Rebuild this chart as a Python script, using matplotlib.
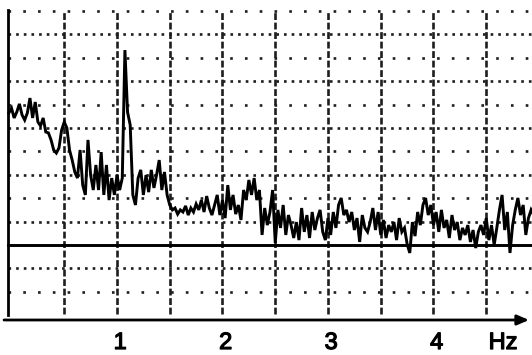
import numpy as np
import matplotlib
matplotlib.use("Agg")
import matplotlib.pyplot as plt
import matplotlib.patheffects as pe

# ---- data (frequency in Hz, amplitude in grid units; 0 = solid reference line) ----
freq_start = -0.025
freq_step = 0.025
amplitude = [
    # -0.025 .. 0.45
    5.64, 5.85, 5.43, 5.68, 6.03, 5.56, 5.34, 5.64, 6.28, 5.43,
    6.11, 5.26, 5.09, 5.43, 4.83, 4.79, 4.49, 4.06, 3.93, 4.15,
    # 0.475 .. 0.95
    4.91, 5.26, 5.00, 4.06, 3.63, 3.12, 2.86, 4.06, 2.56, 2.14,
    4.49, 2.99, 2.35, 3.42, 2.35, 3.97, 2.14, 3.42, 1.92, 2.86,
    # 0.975 .. 1.45
    2.14, 2.99, 2.35, 2.86, 8.33, 5.68, 5.13, 2.14, 1.71, 2.86,
    3.21, 2.14, 2.99, 2.26, 3.21, 2.44, 2.99, 3.63, 2.35, 3.12,
    # 1.475 .. 1.95
    2.14, 1.71, 1.50, 1.58, 1.32, 1.50, 1.41, 1.67, 1.28, 1.58,
    1.41, 1.75, 1.50, 1.92, 1.41, 2.09, 1.58, 1.28, 1.71, 2.14,
    # 1.975 .. 2.45
    1.28, 1.92, 1.15, 2.56, 1.50, 2.14, 1.32, 1.71, 1.07, 2.35,
    1.92, 2.78, 2.14, 2.86, 1.92, 2.35, 0.43, 1.58, 0.85, 1.41,
    # 2.475 .. 2.95
    2.35, 0.09, 1.50, 0.73, 1.71, 0.43, 1.28, 0.85, 0.30, 0.98,
    0.21, 1.58, 0.56, 1.28, 0.30, 1.41, 0.64, 1.15, 1.50, 0.56,
    # 2.975 .. 3.45
    0.21, 1.15, 0.43, 1.41, 0.73, 1.71, 2.01, 1.28, 1.50, 0.98,
    1.41, 0.64, 1.15, 0.13, 1.28, 0.73, 0.56, 0.98, 1.58, 0.64,
    # 3.475 .. 3.95
    1.41, 0.43, 1.07, 0.30, 0.85, 0.56, 0.98, 0.21, 1.15, 0.56,
    0.73, 0.04, -0.34, 0.98, 0.38, 1.41, 0.85, 1.71, 2.01, 1.28,
    # 3.975 .. 4.45
    1.71, 0.85, 1.41, 0.56, 1.50, 0.73, 1.07, 0.30, 1.28, 0.64,
    0.98, 0.21, 0.73, 0.43, 0.85, 0.13, 0.64, -0.13, 0.56, 0.85,
    # 4.475 .. 4.975
    0.43, 1.15, 0.21, 0.85, 0.00, 0.73, 1.50, 2.14, 0.64, 1.41,
    -0.34, 0.85, 1.50, 2.01, 1.28, 1.71, 0.43, 1.15, 1.50, 1.28, 1.41,
]
freq = freq_start + freq_step * np.arange(len(amplitude))

tick_values = [1, 2, 3, 4]
tick_labels = ["1", "2", "3", "4"]
unit_label = "Hz"
vgrid = [0.5, 1.0, 1.5, 2.0, 2.5, 3.0, 3.5, 4.0, 4.5]
hgrid_levels = [10, 9, 8, 7, 6, 5, 4, 3, 2, 1, -1, -2]

# ---- figure ----
W, H, DPI = 532, 355, 100
fig = plt.figure(figsize=(W / DPI, H / DPI), dpi=DPI)
ax = fig.add_axes([0, 0, 1, 1])
ax.set_axis_off()
x0_px, px_per_hz = 11.5, 105.5
y0_px, px_per_unit = 245.0, 23.4
ax.set_xlim(-x0_px / px_per_hz, (W - x0_px) / px_per_hz)
ax.set_ylim((y0_px - H) / px_per_unit, y0_px / px_per_unit)

gcol = "#1e1e1e"
left = -0.035
right = (W - x0_px) / px_per_hz + 0.05
ytop = 10.0
ybot = -2.95

# horizontal dotted grid
for lv in hgrid_levels:
    if lv % 2 == 0:
        ls = (0, (1.0, 4.6))
    else:
        ls = (0, (1.0, 1.9))
    ax.plot([left, right], [lv, lv], color=gcol, lw=1.9, ls=ls,
            solid_capstyle="butt", dash_capstyle="butt", zorder=1)

# vertical dashed grid
for xv in vgrid:
    ax.plot([xv, xv], [ybot, ytop], color=gcol, lw=1.9, ls=(0, (2.6, 1.0)),
            dash_capstyle="butt", zorder=1)

# left border line
ax.plot([left, left], [ybot - 0.05, ytop + 0.05], color="black", lw=2.0, zorder=2)

# reference solid line
ax.plot([left, right], [0, 0], color="black", lw=2.1, zorder=2)

# signal
ax.plot(freq, amplitude, color="black", lw=2.1, zorder=3, solid_joinstyle="miter")

# bottom axis with arrow
yax = (y0_px - 320) / px_per_unit
ax.annotate("", xy=((529 - x0_px) / px_per_hz, yax),
            xytext=((4 - x0_px) / px_per_hz, yax),
            arrowprops=dict(arrowstyle="-|>,head_length=0.7,head_width=0.3",
                            color="black", lw=2.0, shrinkA=0, shrinkB=0))

# tick labels
ylab = (y0_px - 343) / px_per_unit
stroke = [pe.withStroke(linewidth=0.9, foreground="black")]
for v, t in zip(tick_values, tick_labels):
    ax.text(v + 0.03, ylab, t, ha="center", va="center", fontsize=17,
            family="Liberation Sans", color="black", path_effects=stroke)
ax.text((503 - x0_px) / px_per_hz, ylab, unit_label, ha="center", va="center",
        fontsize=17, family="Liberation Sans", color="black", path_effects=stroke)

fig.savefig("out.png", dpi=DPI, facecolor="white")
